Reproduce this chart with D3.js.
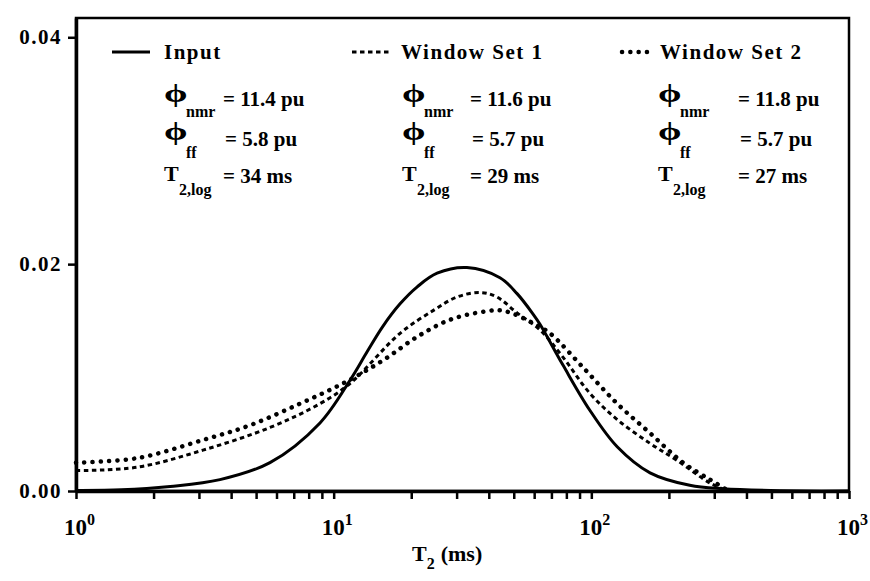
<!DOCTYPE html>
<html>
<head>
<meta charset="utf-8">
<script src="https://cdn.jsdelivr.net/npm/d3@7"></script>
<style>
  body { margin: 0; background: #fff; }
  text { font-family: "Liberation Serif", "Times New Roman", serif; font-weight: bold; fill: #000; }
</style>
</head>
<body>
<div id="chart"></div>
<script>
// T2 distribution values (T2 in ms, amplitude)
var inputT = [1, 1.5, 2.32, 3.62, 5.66, 8.85, 11.6, 13.5, 15.5, 18.1, 21.1, 25.2, 32.9, 44.2, 51.5, 59.4, 63.2, 77.6, 98.8, 126, 169, 241, 324, 646, 1000];
var inputV = [0.00005, 0.0001, 0.0004, 0.001, 0.0025, 0.006, 0.0098, 0.0123, 0.0145, 0.0165, 0.0180, 0.0192, 0.0197, 0.0188, 0.0174, 0.0156, 0.0147, 0.0111, 0.0071, 0.0039, 0.0016, 0.0005, 0.0002, 0, 0];

var set1T = [1, 1.73, 3.11, 5.66, 8.85, 11.6, 18.1, 24.3, 30.1, 37.0, 43.0, 51.5, 63.2, 77.6, 98.8, 126, 169, 215, 289, 340];
var set1V = [0.0018, 0.0021, 0.0036, 0.0056, 0.0077, 0.0095, 0.0139, 0.0159, 0.0171, 0.0175, 0.0171, 0.0157, 0.0142, 0.0118, 0.0086, 0.0063, 0.0042, 0.0027, 0.0007, 0];

var set2T = [1, 1.73, 3.11, 4.74, 7.40, 10.9, 15.5, 21.1, 28.3, 38.0, 45.4, 59.4, 69.1, 92.8, 126, 169, 227, 289, 336];
var set2V = [0.0025, 0.0029, 0.0045, 0.0058, 0.0077, 0.0095, 0.0115, 0.0136, 0.0151, 0.0158, 0.0159, 0.0148, 0.0139, 0.0109, 0.0077, 0.0051, 0.0025, 0.001, 0.0001];

// legend / annotation text
var legendNames = ['Input', 'Window Set 1', 'Window Set 2'];
var phiNmr = ['11.4', '11.6', '11.8'];
var phiFf = ['5.8', '5.7', '5.7'];
var t2Log = ['34', '29', '27'];

// axis ticks
var yTicks = [0, 0.02, 0.04];
var xDecades = [0, 1, 2, 3];

var W = 870, H = 581;
var plotL = 76, plotR = 849, plotT = 18, plotB = 491;

var svg = d3.select('#chart').append('svg')
    .attr('width', W)
    .attr('height', H);

// scales
var x = d3.scaleLog().domain([1, 1000]).range([plotL, plotR]);
var y = d3.scaleLinear().domain([0, 0.0417]).range([plotB, plotT]);

function zip(ts, vs) {
  return ts.map(function(t, i) { return {t: t, v: vs[i]}; });
}

var line = d3.line()
    .x(function(d) { return x(d.t); })
    .y(function(d) { return y(d.v); })
    .curve(d3.curveCatmullRom.alpha(0.5));

// frame
svg.append('rect')
    .attr('x', plotL).attr('y', plotT)
    .attr('width', plotR - plotL).attr('height', plotB - plotT)
    .attr('fill', 'none').attr('stroke', '#000').attr('stroke-width', 2.5);

// x axis with minor ticks
var xTickVals = [];
[1, 10, 100].forEach(function(b) {
  for (var k = 1; k < 10; k++) xTickVals.push(b * k);
});
xTickVals.push(1000);

var xAxis = svg.append('g')
    .attr('transform', 'translate(0,' + plotB + ')')
    .call(d3.axisBottom(x).tickValues(xTickVals).tickSize(8).tickSizeOuter(0).tickFormat(''));
xAxis.select('.domain').attr('stroke-width', 3.5);
xAxis.selectAll('.tick line').attr('stroke-width', 2.5);

// y axis
var yAxis = svg.append('g')
    .attr('transform', 'translate(' + plotL + ',0)')
    .call(d3.axisLeft(y).tickValues(yTicks).tickSize(8).tickSizeOuter(0).tickFormat(''));
yAxis.select('.domain').attr('stroke-width', 3.5);
yAxis.selectAll('.tick line').attr('stroke-width', 2.5);

// y tick labels
svg.selectAll('.ylab')
    .data(yTicks)
  .enter().append('text')
    .attr('class', 'ylab')
    .attr('x', 62)
    .attr('y', function(d) { return y(d) + 7; })
    .attr('text-anchor', 'end')
    .attr('font-size', 21)
    .attr('letter-spacing', 1.5)
    .text(function(d) { return d3.format('.2f')(d); });

// x tick labels 10^n
var xl = svg.selectAll('.xlab')
    .data(xDecades)
  .enter().append('text')
    .attr('class', 'xlab')
    .attr('x', function(d) { return x(Math.pow(10, d)) - 12; })
    .attr('y', 535)
    .attr('font-size', 23);
xl.append('tspan').text('10');
xl.append('tspan').attr('dy', -10).attr('font-size', 16).text(function(d) { return d; });

// x axis title
var xt = svg.append('text').attr('x', 412).attr('y', 561).attr('font-size', 22);
xt.append('tspan').text('T');
xt.append('tspan').attr('dy', 8).attr('font-size', 16).text('2');
xt.append('tspan').attr('dy', -8).attr('dx', 6).text('(ms)');

// curves
svg.append('path')
    .datum(zip(inputT, inputV))
    .attr('fill', 'none').attr('stroke', '#000').attr('stroke-width', 3)
    .attr('d', line);

svg.append('path')
    .datum(zip(set1T, set1V))
    .attr('fill', 'none').attr('stroke', '#000').attr('stroke-width', 3)
    .attr('stroke-dasharray', '4.5,3.5')
    .attr('d', line);

svg.append('path')
    .datum(zip(set2T, set2V))
    .attr('fill', 'none').attr('stroke', '#000').attr('stroke-width', 4.5)
    .attr('stroke-linecap', 'round')
    .attr('stroke-dasharray', '0.1,8.2')
    .attr('d', line);

// legend + annotations, one column per series
var cols = [
  {lx0: 112, lx1: 150, tx: 164, phx: 164, eqx: 223, dash: null, sw: 3, cap: 'butt'},
  {lx0: 352, lx1: 390, tx: 401, phx: 402, eqx: 470, dash: '4.5,3.5', sw: 3, cap: 'butt'},
  {lx0: 622, lx1: 652, tx: 660, phx: 658, eqx: 738, dash: '0.1,8.2', sw: 4.5, cap: 'round'}
];
var rowTitle = 59, rowNmr = 106, rowFf = 146, rowT = 183;

function phi(px, py) {
  svg.append('text')
      .attr('transform', 'translate(' + px + ',' + py + ') scale(1.45,1)')
      .attr('font-size', 26)
      .text('\u03D5');
}

cols.forEach(function(c, i) {
  svg.append('line')
      .attr('x1', c.lx0).attr('x2', c.lx1)
      .attr('y1', rowTitle - 7).attr('y2', rowTitle - 7)
      .attr('stroke', '#000').attr('stroke-width', c.sw)
      .attr('stroke-linecap', c.cap)
      .attr('stroke-dasharray', c.dash);

  svg.append('text').attr('x', c.tx).attr('y', rowTitle).attr('font-size', 21)
      .attr('letter-spacing', 1.5).text(legendNames[i]);

  // phi_nmr
  phi(c.phx, rowNmr - 4);
  svg.append('text').attr('x', c.phx + 22).attr('y', rowNmr + 11).attr('font-size', 16).text('nmr');
  svg.append('text').attr('x', c.eqx).attr('y', rowNmr).attr('font-size', 21).text('= ' + phiNmr[i] + ' pu');

  // phi_ff
  phi(c.phx, rowFf - 6);
  svg.append('text').attr('x', c.phx + 22).attr('y', rowFf + 12).attr('font-size', 16).text('ff');
  svg.append('text').attr('x', c.eqx + 2).attr('y', rowFf).attr('font-size', 21).text('= ' + phiFf[i] + ' pu');

  // T2,log
  svg.append('text').attr('x', c.phx).attr('y', rowT - 2).attr('font-size', 22).text('T');
  svg.append('text').attr('x', c.phx + 15).attr('y', rowT + 12).attr('font-size', 16).text('2,log');
  svg.append('text').attr('x', c.eqx).attr('y', rowT).attr('font-size', 21).text('= ' + t2Log[i] + ' ms');
});
</script>
</body>
</html>
